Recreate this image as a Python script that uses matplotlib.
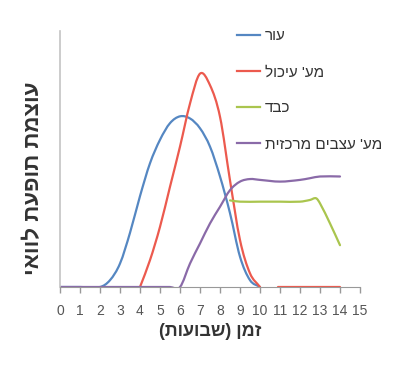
import numpy as np
import matplotlib
matplotlib.use("Agg")
import matplotlib.pyplot as plt
from matplotlib.path import Path
from matplotlib.patches import PathPatch
from matplotlib.lines import Line2D

plt.rcParams['font.family'] = ['Liberation Sans', 'DejaVu Sans']


def rtl(s):
    # matplotlib has no bidi support: reverse Hebrew text and mirror brackets
    mirror = {'(': ')', ')': '('}
    return ''.join(mirror.get(c, c) for c in reversed(s))


def smooth_path(xs, ys):
    # Excel-style smoothed line: cubic Hermite segments drawn as Beziers
    verts, codes = [], []
    xs = np.asarray(xs, float)
    ys = np.asarray(ys, float)
    ok = ~np.isnan(ys)
    runs, cur = [], []
    for i in range(len(xs)):
        if ok[i]:
            cur.append((xs[i], ys[i]))
        elif cur:
            runs.append(cur)
            cur = []
    if cur:
        runs.append(cur)
    for run in runs:
        p = np.array(run)
        n = len(p)
        # slope at every point (secant of neighbours)
        m = np.zeros(n)
        for i in range(n):
            a = p[max(i - 1, 0)]
            b = p[min(i + 1, n - 1)]
            m[i] = (b[1] - a[1]) / (b[0] - a[0]) if b[0] != a[0] else 0.0
        verts.append(p[0])
        codes.append(Path.MOVETO)
        for i in range(n - 1):
            dx = (p[i + 1][0] - p[i][0]) / 3.0
            c1 = (p[i][0] + dx, p[i][1] + m[i] * dx)
            c2 = (p[i + 1][0] - dx, p[i + 1][1] - m[i + 1] * dx)
            verts += [c1, c2, tuple(p[i + 1])]
            codes += [Path.CURVE4] * 3
    return Path(verts, codes)


# --- data (weeks vs. relative severity) ---
skin_weeks = [0, 1, 2, 2.5, 3, 3.5, 4, 4.5, 5, 5.5, 6, 6.5, 7, 7.5, 8, 8.5, 9, 9.5, 10]
skin_vals = [0, 0, 0, 0.16, 0.55, 1.27, 2.13, 2.9, 3.45, 3.84, 4.0, 3.95, 3.72, 3.29, 2.59, 1.73, 0.71, 0.16, 0]

digest_weeks = [4, 4.5, 5, 5.5, 6, 6.5, 7, 7.5, 8, 8.5, 9, 9.5, 10, 10.5, 10.9, 12, 13, 14]
digest_vals = [0, 0.63, 1.41, 2.35, 3.29, 4.3, 5.0, 4.73, 3.99, 2.5, 1.1, 0.32, 0, np.nan, 0, 0, 0, 0]

liver_weeks = [8.5, 9, 10, 11, 12, 12.5, 12.8, 13, 13.5, 14]
liver_vals = [2.03, 2.0, 2.0, 2.0, 2.0, 2.04, 2.08, 1.96, 1.49, 0.98]

cns_weeks = [0, 3, 5.5, 6, 6.5, 7, 7.5, 8, 8.5, 9, 9.5, 10, 11, 12, 12.5, 13, 14]
cns_vals = [0, 0, 0, 0, 0.55, 1.02, 1.49, 1.88, 2.27, 2.47, 2.53, 2.51, 2.47, 2.51, 2.55, 2.59, 2.59]

labels = ["עור", "מע' עיכול", "כבד", "מע' עצבים מרכזית"]
colors = ['#5587c2', '#ec5a4e', '#aac54e', '#8a6aa8']
x_ticks = list(range(0, 16))

fig = plt.figure(figsize=(4.0, 3.65), dpi=100)
ax = fig.add_axes([0.15, 0.2137, 0.75, 0.7014])

series = [(skin_weeks, skin_vals), (digest_weeks, digest_vals),
          (liver_weeks, liver_vals), (cns_weeks, cns_vals)]
handles = []
for (xs, ys), lab, col in zip(series, labels, colors):
    ax.add_patch(PathPatch(smooth_path(xs, ys), fill=False, edgecolor=col,
                           lw=1.6, capstyle='round', joinstyle='round'))
    handles.append(Line2D([], [], color=col, lw=1.6, label=rtl(lab)))

ax.set_xlim(0, 15)
ax.set_ylim(0, 6)
ax.set_xticks(x_ticks)
ax.set_xticklabels([str(t) for t in x_ticks], fontsize=10, color='#555555')
ax.tick_params(axis='x', length=4, width=1, color='#999999', pad=8)
ax.set_yticks([])
for side in ['top', 'right']:
    ax.spines[side].set_visible(False)
ax.spines['left'].set_color('#c4c4c4')
ax.spines['bottom'].set_color('#999999')
ax.spines['left'].set_linewidth(1.2)

fig.text(210 / 400, 1 - 332 / 365, rtl("זמן (שבועות)"), fontsize=13, fontweight='bold',
         color='#333333', ha='center', va='center')
fig.text(34 / 400, 1 - 178 / 365, rtl("עוצמת תופעת לוואי"), fontsize=16, fontweight='bold',
         color='#333333', ha='center', va='center', rotation=90)

fig.legend(handles=handles, loc='upper left', bbox_to_anchor=(0.558, 0.958), frameon=False,
           fontsize=11, handlelength=1.5, handletextpad=0.33, labelspacing=1.45,
           labelcolor='#333333')

fig.savefig('out.png', dpi=100, facecolor='white')
